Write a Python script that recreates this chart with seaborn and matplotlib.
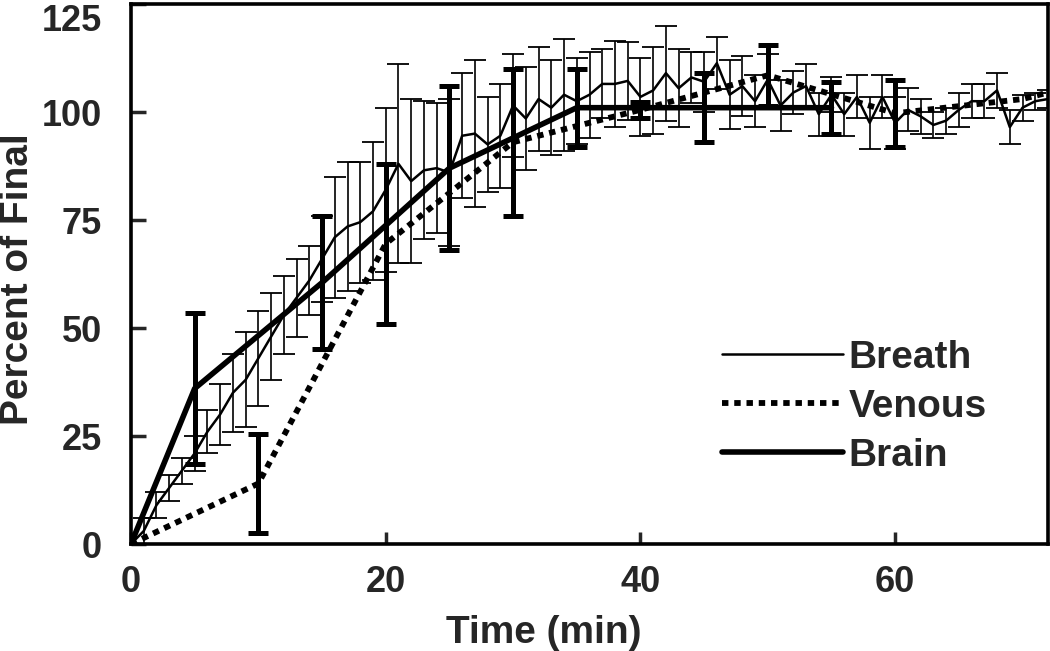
import numpy as np
import pandas as pd
import matplotlib
matplotlib.use("Agg")
import matplotlib.pyplot as plt
import seaborn as sns

# ---- data ----
breath_time = list(range(0, 73))
breath_pct = [0, 3, 9, 13, 17, 21, 26, 30, 35, 38,
              43, 48, 53, 57, 61, 66, 71, 73.5, 74.5, 77,
              82, 88, 84, 86.5, 87, 86, 94.5, 95, 92.5, 94.5,
              101.5, 98.5, 103, 101, 104, 102.5, 104, 106.5, 106.5, 107.2,
              103.5, 105, 109, 105.5, 108, 107, 111.3, 104, 106, 102.5,
              107.5, 101.5, 104.5, 106, 99.5, 104, 99.5, 103.5, 97.5, 103.5,
              97.5, 100.5, 99, 97, 98, 100.5, 102.5, 102.5, 105, 96.5,
              101, 102.5, 103]
breath_err = [0, 3, 3, 3, 3, 4, 5, 7, 9, 11,
              11, 10, 9, 9, 8, 10, 14, 15, 14, 16,
              19, 23, 19, 16, 15, 17, 14.5, 17, 11, 12,
              12, 12, 12, 11, 13, 10, 10, 8, 10, 9,
              9, 10, 11, 9, 6, 7, 6, 8, 7, 6,
              6, 6, 5, 5, 5, 4, 5, 5, 6, 5,
              6, 5, 4, 3, 3, 4, 4, 4, 4, 4,
              3, 2, 2]

venous_time = [0, 10, 20, 30, 40, 50, 60, 70, 72]
venous_pct = [0, 14, 69.5, 93, 100.5, 108.5, 99.7, 103, 104.5]
venous_err = [0, 11.5, 18.5, 17, 1.8, 7, 7.8, 0, 0]

brain_time = [0, 5, 15, 25, 35, 45, 55]
brain_pct = [0, 36, 60.5, 87, 101, 101, 101]
brain_err = [0, 17.5, 15.4, 19, 9, 8, 6]

x_ticks = [0, 20, 40, 60]
y_ticks = [0, 25, 50, 75, 100, 125]
series_names = ["Breath", "Venous", "Brain"]

# ---- style ----
sns.set_style("white")
plt.rcParams['font.family'] = ['Liberation Sans', 'DejaVu Sans']
plt.rcParams['font.weight'] = 'bold'

fig = plt.figure(figsize=(10.5, 6.51), dpi=100)
ax = fig.add_axes([131 / 1050, 1 - 544 / 651, 917 / 1050, 540 / 651])

df_breath = pd.DataFrame({"t": breath_time, "v": breath_pct})
df_venous = pd.DataFrame({"t": venous_time, "v": venous_pct})
df_brain = pd.DataFrame({"t": brain_time, "v": brain_pct})

sns.lineplot(data=df_breath, x="t", y="v", ax=ax, color="black", lw=1.8,
             label=series_names[0], zorder=4)
sns.lineplot(data=df_venous, x="t", y="v", ax=ax, color="black", lw=4.2,
             linestyle=(0, (1.1, 1.0)), dash_capstyle="butt",
             label=series_names[1], zorder=3)
sns.lineplot(data=df_brain, x="t", y="v", ax=ax, color="black", lw=4.0,
             label=series_names[2], zorder=3)


def bars(t, v, e, lw, cap, capthick, z):
    t = np.asarray(t, float); v = np.asarray(v, float); e = np.asarray(e, float)
    m = e > 0
    ax.errorbar(t[m], v[m], yerr=e[m], fmt="none", ecolor="black",
                elinewidth=lw, capsize=cap, capthick=capthick, zorder=z)


bars(breath_time, breath_pct, breath_err, 1.2, 8, 1.3, 5)
bars(venous_time, venous_pct, venous_err, 3.6, 7.5, 3.6, 3)
bars(brain_time, brain_pct, brain_err, 3.6, 7.5, 3.6, 3)

ax.set_xlim(0, 72)
ax.set_ylim(0, 125)
ax.set_xticks(x_ticks)
ax.set_yticks(y_ticks)

for s in ax.spines.values():
    s.set_visible(True)
    s.set_linewidth(2.6)
    s.set_color("black")

ax.tick_params(axis="y", direction="in", length=11, width=2.5, labelsize=26,
               pad=21, left=True, right=False)
ax.tick_params(axis="x", direction="in", length=9, width=2.5, labelsize=26,
               pad=15, bottom=True, top=False)
ax.get_yticklabels()[-1].set_va("top")

ax.set_xlabel("Time (min)", fontsize=28, fontweight="bold")
ax.set_ylabel("Percent of Final", fontsize=28, fontweight="bold")
ax.xaxis.set_label_coords(0.45, -0.131)
ax.yaxis.set_label_coords(-0.104, 0.49)

handles, labels = ax.get_legend_handles_labels()
ax.legend(handles, labels, loc="upper left", bbox_to_anchor=(0.6445, 0.378),
          frameon=False, handlelength=3.1, handletextpad=0.15,
          labelspacing=0.33, borderpad=0, borderaxespad=0,
          prop={"weight": "bold", "size": 28})

fig.savefig("out.png", dpi=100)
